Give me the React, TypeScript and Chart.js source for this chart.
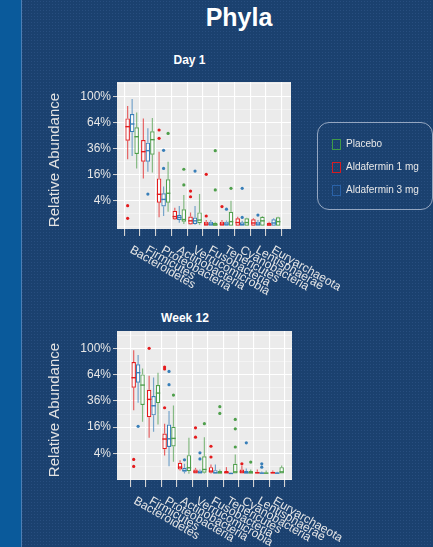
import React, { useEffect, useRef } from "react";
import { Chart, registerables } from "chart.js";
Chart.register(...registerables);

// ---------- data (relative abundance, %) ----------
const categories = [
  "Bacteroidetes", "Firmicutes", "Proteobacteria", "Actinobacteria", "Verrucomicrobia",
  "Fusobacteria", "Tenericutes", "Cyanobacteria", "Lentisphaerae", "Euryarchaeota",
];
const arms = ["Aldafermin 1 mg", "Aldafermin 3 mg", "Placebo"];
const armColors = ["#e41a1c", "#377eb8", "#4e9f4b"];
const legendOrder = ["Placebo", "Aldafermin 1 mg", "Aldafermin 3 mg"];
const legendColors = ["#3f9a48", "#d61c22", "#2a62a8"];
const yTickPercents = [4, 16, 36, 64, 100];

// [lower whisker, Q1, median, Q3, upper whisker] per phylum
const day1Ald1mg = [
  [26.8, 43.8, 59.2, 69.4, 86.2], [13.8, 25, 33.3, 44.4, 69.4], [0.52, 3.4, 6.2, 13.8, 33.3],
  [0.26, 0.3, 0.6, 1.5, 2.1], [0.02, 0.03, 0.2, 0.6, 1.2], [0.005, 0.006, 0.04, 0.15, 0.26],
  [0.005, 0.006, 0.04, 0.15, 0.26], [0.005, 0.006, 0.1, 0.41, 0.59], [0.005, 0.006, 0.08, 0.32, 0.41],
  [0.005, 0.006, 0.02, 0.09, 0.15],
];
const day1Ald3mg = [
  [29.5, 52.7, 62.4, 75.1, 96.4], [17.9, 25, 34.2, 41.8, 57.2], [0.67, 2.4, 4.4, 6.6, 9.5],
  [0.09, 0.26, 0.5, 0.8, 2.5], [0.02, 0.04, 0.2, 0.5, 2.5], [0.005, 0.006, 0.04, 0.15, 0.26],
  [0.005, 0.006, 0.04, 0.15, 0.22], [0.005, 0.006, 0.03, 0.11, 0.2], [0.005, 0.006, 0.04, 0.15, 0.26],
  [0.005, 0.006, 0.08, 0.32, 0.41],
];
const day1Placebo = [
  [20.1, 31.2, 47.9, 58.4, 77.3], [17.3, 30.7, 44.8, 53.8, 69.9], [1.3, 3.4, 6.6, 13.3, 25],
  [0.04, 0.15, 0.3, 1.8, 5.9], [0.02, 0.07, 0.26, 1.2, 6.3], [0.005, 0.006, 0.02, 0.09, 0.15],
  [0.005, 0.006, 0.15, 1.3, 4.0], [0.005, 0.006, 0.1, 0.41, 0.48], [0.005, 0.006, 0.2, 0.59, 0.67],
  [0.005, 0.006, 0.15, 0.52, 0.59],
];
const day1Ald1mgOutliers = [[2.6, 0.41], [], [55.3, 46.2], [], [7.5, 5.3], [16.2, 0.67], [2.4], [], [], []];
const day1Ald3mgOutliers = [[], [6.3], [34.5, 20.1], [], [18.3], [], [1.8], [8.7, 0.5], [0.8], []];
const day1PlaceboOutliers = [[], [], [51.5], [19.5, 10.3], [], [34.2, 8.0], [8.7], [], [], []];

const week12Ald1mg = [
  [27.9, 49.1, 60.3, 80.3, 97.0], [10.2, 22.7, 37.4, 46.9, 62.7], [3.4, 5.4, 9.6, 12.4, 18.2],
  [0.5, 0.61, 0.92, 1.66, 2.2], [0.23, 0.23, 0.36, 0.61, 0.82], [0.23, 0.28, 0.43, 0.92, 1.35],
  [0.23, 0.23, 0.3, 0.43, 0.92], [0.23, 0.23, 0.36, 0.61, 1.08], [0.23, 0.23, 0.28, 0.36, 0.61],
  [0.23, 0.23, 0.28, 0.36, 0.5],
];
const week12Ald3mg = [
  [34.3, 54.5, 66.4, 77.1, 90], [13.3, 24.0, 31.7, 40.6, 60.4], [1.07, 6.2, 9.7, 17.7, 27.3],
  [0.23, 0.36, 0.5, 0.83, 1.5], [0.23, 0.23, 0.3, 0.5, 0.61], [0.23, 0.23, 0.28, 0.53, 1.35],
  [0.23, 0.23, 0.23, 0.25, 0.28], [0.23, 0.23, 0.28, 0.43, 0.73], [0.23, 0.23, 0.25, 0.3, 0.4],
  [0.23, 0.23, 0.25, 0.3, 0.36],
];
const week12Placebo = [
  [19.5, 32.3, 51.9, 64.3, 71.8], [17.7, 34.0, 43.5, 51.9, 66.4], [1.9, 6.4, 9.9, 16.3, 32.0],
  [0.2, 0.43, 0.83, 3.5, 10.2], [0.23, 0.28, 0.61, 3.2, 10.5], [0.23, 0.23, 0.28, 0.43, 0.61],
  [0.23, 0.23, 0.36, 1.47, 3.7], [0.23, 0.23, 0.28, 0.43, 0.61], [0.23, 0.23, 0.25, 0.3, 0.49],
  [0.23, 0.23, 0.36, 0.92, 1.18],
];
const week12Ald1mgOutliers = [[2.4, 1.03], [100], [73.6, 71.0, 30.0], [], [15.6, 10.5], [6.5, 3.0], [], [1.47], [], []];
const week12Ald3mgOutliers = [[16.5], [], [68.0, 52.3], [2.3], [4.2, 2.5], [], [], [7.9], [1.47, 0.92], []];
const week12PlaceboOutliers = [[], [], [41.5], [], [18.2], [30.9, 25.5], [21.1, 15.0, 6.2], [1.8], [], []];

// ---------- helpers ----------
const FONT = "'Liberation Sans', Arial, sans-serif";
const sq = (p: number) => Math.sqrt(p / 100);
const isMajor = (v: number) =>
  yTickPercents.some((p) => Math.abs(sq(p) - v) < 1e-6);
const rgba = (hex: string, a: number) => {
  const n = parseInt(hex.slice(1), 16);
  return `rgba(${(n >> 16) & 255},${(n >> 8) & 255},${n & 255},${a})`;
};

type PanelDef = {
  key: string;
  stats: number[][][];
  outliers: number[][][];
  top: number;
  height: number;
  padTop: number;
  padRight: number;
  plotBottom: number;
  yMin: number;
  yMax: number;
  xMin: number;
  xMax: number;
  labelDx: number;
  labelDy: number;
  yTitleY: number;
};

const panels: PanelDef[] = [
  {
    key: "day1",
    stats: [day1Ald1mg, day1Ald3mg, day1Placebo],
    outliers: [day1Ald1mgOutliers, day1Ald3mgOutliers, day1PlaceboOutliers],
    top: 0, height: 300, padTop: 82, padRight: 142, plotBottom: 229,
    yMin: -0.018, yMax: 1.113, xMin: -0.41, xMax: 9.55,
    labelDx: -3, labelDy: 23, yTitleY: 160,
  },
  {
    key: "week12",
    stats: [week12Ald1mg, week12Ald3mg, week12Placebo],
    outliers: [week12Ald1mgOutliers, week12Ald3mgOutliers, week12PlaceboOutliers],
    top: 300, height: 247, padTop: 31, padRight: 141, plotBottom: 180,
    yMin: -0.002, yMax: 1.132, xMin: -0.8, xMax: 9.39,
    labelDx: -5, labelDy: 23, yTitleY: 110,
  },
];

function BoxChart({ p }: { p: PanelDef }) {
  const ref = useRef<HTMLCanvasElement>(null);
  useEffect(() => {
    const canvas = ref.current!;
    const boxPlugin = {
      id: "boxExtras",
      beforeDraw(chart: any) {
        const { ctx, chartArea: a } = chart;
        ctx.save();
        ctx.fillStyle = "#ebebeb";
        ctx.fillRect(a.left, a.top, a.right - a.left, a.bottom - a.top);
        ctx.restore();
      },
      beforeDatasetsDraw(chart: any) {
        const { ctx } = chart;
        const y = chart.scales.y;
        ctx.save();
        p.stats.forEach((arm, d) => {
          const meta = chart.getDatasetMeta(d);
          ctx.strokeStyle = rgba(armColors[d], 0.65);
          ctx.lineWidth = 1.2;
          arm.forEach((s, i) => {
            const el = meta.data[i];
            if (!el) return;
            const x = el.x;
            ctx.beginPath();
            ctx.moveTo(x, y.getPixelForValue(sq(s[3])));
            ctx.lineTo(x, y.getPixelForValue(sq(s[4])));
            ctx.moveTo(x, y.getPixelForValue(sq(s[1])));
            ctx.lineTo(x, y.getPixelForValue(sq(s[0])));
            ctx.stroke();
          });
        });
        ctx.restore();
      },
      afterDatasetsDraw(chart: any) {
        const { ctx } = chart;
        const y = chart.scales.y;
        ctx.save();
        p.stats.forEach((arm, d) => {
          const meta = chart.getDatasetMeta(d);
          arm.forEach((s, i) => {
            const el = meta.data[i];
            if (!el) return;
            const x = el.x;
            const w = el.width;
            const ym = y.getPixelForValue(sq(s[2]));
            ctx.strokeStyle = armColors[d];
            ctx.lineWidth = 1.4;
            ctx.beginPath();
            ctx.moveTo(x - w / 2, ym);
            ctx.lineTo(x + w / 2, ym);
            ctx.stroke();
            ctx.fillStyle = armColors[d];
            p.outliers[d][i].forEach((o) => {
              ctx.beginPath();
              ctx.arc(x, y.getPixelForValue(sq(o)), 1.6, 0, Math.PI * 2);
              ctx.fill();
            });
          });
        });
        ctx.restore();
      },
      afterDraw(chart: any) {
        const { ctx, chartArea: a } = chart;
        const xs = chart.scales.x;
        ctx.save();
        ctx.fillStyle = "#e6e6e6";
        ctx.font = `12px ${FONT}`;
        ctx.textAlign = "left";
        ctx.textBaseline = "alphabetic";
        categories.forEach((c, i) => {
          const px = xs.getPixelForValue(i) + p.labelDx;
          const py = a.bottom + p.labelDy;
          ctx.save();
          ctx.translate(px, py);
          ctx.rotate((30 * Math.PI) / 180);
          ctx.fillText(c, 0, 0);
          ctx.restore();
        });
        ctx.translate(55, p.yTitleY);
        ctx.rotate(-Math.PI / 2);
        ctx.font = `15px ${FONT}`;
        ctx.textAlign = "center";
        ctx.textBaseline = "middle";
        ctx.fillStyle = "#e2e2e2";
        ctx.fillText("Relative Abundance", 0, 0);
        ctx.restore();
      },
    };

    const chart = new Chart(canvas, {
      type: "bar",
      data: {
        datasets: p.stats.map((arm, d) => ({
          label: arms[d],
          data: arm.map((s, i) => ({ x: i, y: [sq(s[1]), sq(s[3])] })),
          backgroundColor: "rgba(255,255,255,0.75)",
          borderColor: armColors[d],
          borderWidth: 1.2,
          borderSkipped: false,
          categoryPercentage: 0.86,
          barPercentage: 1,
        })) as any,
      },
      options: {
        responsive: false,
        animation: false,
        devicePixelRatio: 1,
        events: [],
        layout: { padding: { top: p.padTop, right: p.padRight, left: 0, bottom: 0 } },
        plugins: { legend: { display: false }, tooltip: { enabled: false }, title: { display: false } },
        scales: {
          x: {
            type: "linear",
            min: p.xMin,
            max: p.xMax,
            ticks: { stepSize: 1, display: false, includeBounds: false },
            grid: { color: "#ffffff", lineWidth: 1.1, tickColor: "#d4d4d4", tickLength: 7 },
            border: { display: false },
            afterFit: (s: any) => { s.height = p.height - p.plotBottom; },
          },
          y: {
            type: "linear",
            min: p.yMin,
            max: p.yMax,
            ticks: {
              stepSize: 0.1,
              autoSkip: false,
              includeBounds: false,
              padding: 2,
              color: "#e6e6e6",
              font: { family: FONT, size: 12 },
              callback: (v: any) => (isMajor(Number(v)) ? `${Math.round(Number(v) * Number(v) * 100)}%` : ""),
            },
            grid: {
              color: (c: any) => (isMajor(c.tick?.value) ? "#ffffff" : "rgba(255,255,255,0.75)"),
              lineWidth: (c: any) => (isMajor(c.tick?.value) ? 1.1 : 0.55),
              tickColor: (c: any) => (isMajor(c.tick?.value) ? "#d4d4d4" : "rgba(0,0,0,0)"),
              tickWidth: 1,
              tickLength: 4,
            },
            border: { display: false },
            afterFit: (s: any) => { s.width = 117; },
          },
        },
      } as any,
      plugins: [boxPlugin],
    });
    return () => chart.destroy();
  }, []);
  return (
    <canvas
      ref={ref}
      width={433}
      height={p.height}
      style={{ position: "absolute", left: 0, top: p.top, width: 433, height: p.height }}
    />
  );
}

const textStyle: React.CSSProperties = {
  position: "absolute",
  color: "#ffffff",
  fontFamily: FONT,
  whiteSpace: "nowrap",
  transform: "translateX(-50%)",
};

export default function App() {
  return (
    <div
      style={{
        position: "absolute",
        left: 0,
        top: 0,
        width: 433,
        height: 547,
        overflow: "hidden",
        backgroundColor: "#1b416f",
        backgroundImage: "radial-gradient(circle, rgba(70,110,165,0.3) 0.5px, transparent 0.9px)",
        backgroundSize: "3px 3px",
      }}
    >
      <div style={{ position: "absolute", left: 0, top: 0, width: 21, height: 547, background: "#0a5a9b" }} />
      <div style={{ position: "absolute", left: 21, top: 0, width: 1, height: 547, background: "#4d7fb5" }} />
      <div style={{ ...textStyle, left: 239, top: 5, fontSize: 25, fontWeight: "bold", lineHeight: "25px" }}>Phyla</div>
      <div style={{ ...textStyle, left: 189.5, top: 54, fontSize: 12, fontWeight: "bold", lineHeight: "12px" }}>Day 1</div>
      <div style={{ ...textStyle, left: 185, top: 312, fontSize: 12, fontWeight: "bold", lineHeight: "12px" }}>Week 12</div>
      {panels.map((p) => (
        <BoxChart key={p.key} p={p} />
      ))}
      <div
        style={{
          position: "absolute",
          left: 317,
          top: 122,
          width: 114,
          height: 86,
          border: "1px solid rgba(190,200,220,0.75)",
          borderRadius: 12,
        }}
      >
        {legendOrder.map((name, i) => (
          <div
            key={name}
            style={{ position: "absolute", left: 14, top: 16 + i * 23, height: 10, display: "flex", alignItems: "center" }}
          >
            <span
              style={{
                display: "inline-block",
                width: 7,
                height: 9,
                border: `1px solid ${legendColors[i]}`,
                marginRight: 5,
              }}
            />
            <span style={{ color: "#e8e8e8", fontFamily: FONT, fontSize: 10, lineHeight: "10px", whiteSpace: "nowrap" }}>
              {name}
            </span>
          </div>
        ))}
      </div>
    </div>
  );
}
